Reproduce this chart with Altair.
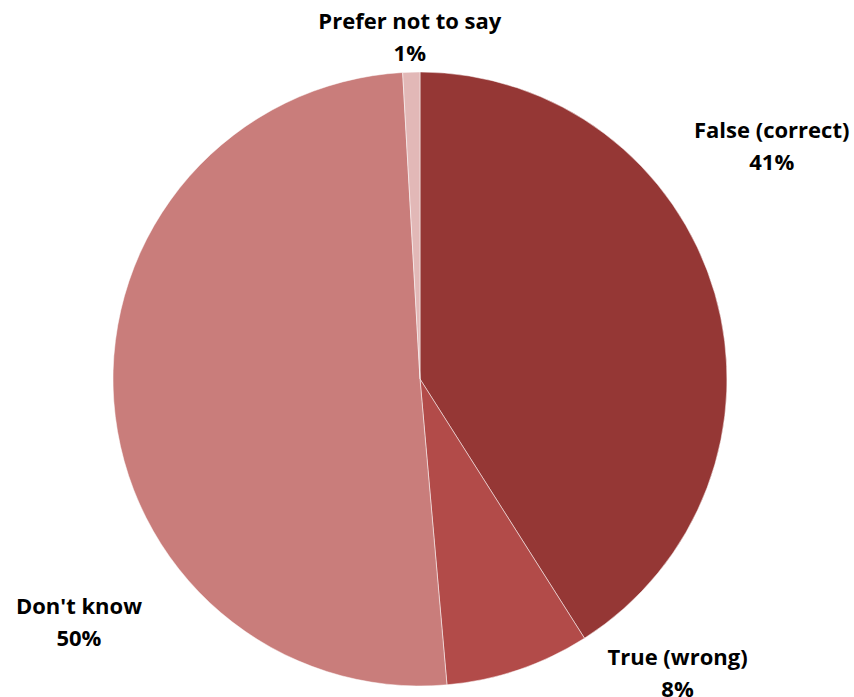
import altair as alt
import pandas as pd
import math

categories = ["False (correct)", "True (wrong)", "Don't know", "Prefer not to say"]
shares = [41.0, 7.6, 50.5, 0.9]
# percentages as printed on the labels
pct_labels = ["41%", "8%", "50%", "1%"]
colors = ["#953735", "#B24B49", "#C97D7B", "#E2B8B7"]

df = pd.DataFrame({
    "cat": categories,
    "val": shares,
    "pct": pct_labels,
    "order": list(range(len(categories))),
})

pie = alt.Chart(df).mark_arc(stroke="white", strokeWidth=0.5).encode(
    theta=alt.Theta("val:Q", stack=True),
    order=alt.Order("order:Q"),
    color=alt.Color("cat:N", scale=alt.Scale(domain=categories, range=colors), legend=None),
)

offsets = {
    "False (correct)": (6, -148),
    "True (wrong)": (142, -62),
    "Don't know": (18, 202),
    "Prefer not to say": (0, 3),
}

text_base = (
    alt.Chart(df)
    .transform_joinaggregate(total="sum(val)")
    .transform_window(cum="sum(val)", sort=[alt.SortField("order")], frame=[None, 0])
    .transform_calculate(
        mid="(datum.cum - datum.val / 2) / datum.total",
        label="datum.cat + '\\n' + datum.pct",
    )
)

layers = [pie]
for c in categories:
    dx, dy = offsets[c]
    layers.append(
        text_base.transform_filter(alt.datum.cat == c)
        .mark_text(
            radius=360, font="Open Sans", fontWeight="bold", fontSize=22,
            lineBreak="\n", lineHeight=32, dx=dx, dy=dy, color="black",
            align="center", baseline="middle",
        )
        .encode(
            theta=alt.Theta("mid:Q", stack=None,
                            scale=alt.Scale(domain=[0, 1], range=[0, 2 * math.pi])),
            text=alt.Text("label:N"),
        )
    )

chart = alt.layer(*layers).resolve_scale(theta="independent").properties(
    width=614, height=614,
    autosize=alt.AutoSizeParams(type="none"),
    padding={"left": 113, "top": 72, "right": 127, "bottom": 11},
).configure_view(stroke=None)

chart.save("out.html", embed_options={"renderer": "svg", "actions": False})
